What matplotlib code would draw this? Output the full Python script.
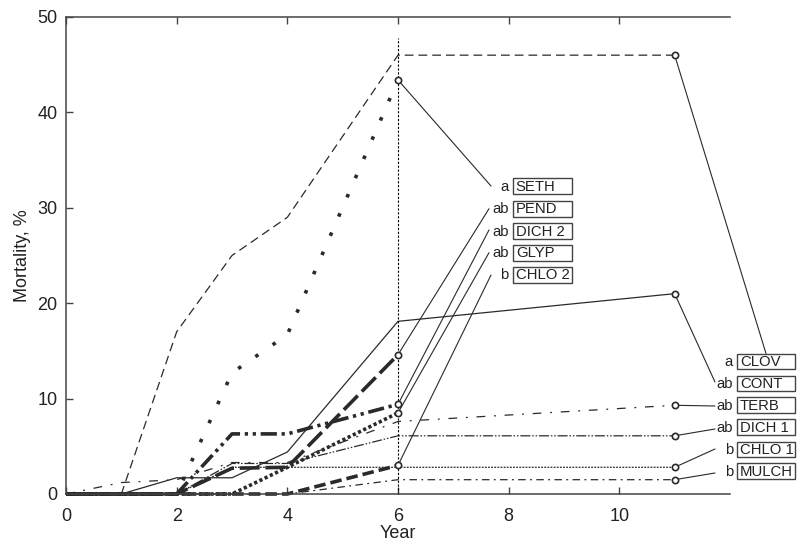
import matplotlib
matplotlib.use("Agg")
import matplotlib.pyplot as plt
from matplotlib.patches import Rectangle

plt.rcParams['font.family'] = ['Liberation Sans', 'DejaVu Sans']

# ---------------- data ----------------
years_to6 = [0, 1, 2, 3, 4, 6]
years_to11 = [0, 1, 2, 3, 4, 6, 11]

# series ending at year 6
seth = [0, 0, 0, 12.7, 16.7, 43.4]
pend = [0, 0, 0, 2.7, 2.8, 14.6]
dich2 = [0, 0, 0, 6.3, 6.3, 9.4]
glyp = [0, 0, 0, 0, 2.8, 8.5]
chlo2 = [0, 0, 0, 0, 0, 3.0]

# series ending at year 11
clov = [0, 0, 17.0, 25.0, 29.0, 46.0, 46.0]
cont = [0, 0, 1.7, 1.7, 4.4, 18.1, 21.0]
terb = [0, 1.2, 1.5, 3.3, 3.3, 7.6, 9.3]
dich1 = [0, 0, 0, 3.2, 3.2, 6.1, 6.1]
chlo1 = [0, 0, 0, 2.8, 2.8, 2.8, 2.8]
mulch = [0, 0, 0, 0, 0, 1.5, 1.5]

names_left = ['SETH', 'PEND', 'DICH 2', 'GLYP', 'CHLO 2']
letters_left = ['a', 'ab', 'ab', 'ab', 'b']
names_right = ['CLOV', 'CONT', 'TERB', 'DICH 1', 'CHLO 1', 'MULCH']
letters_right = ['a', 'ab', 'ab', 'ab', 'b', 'b']

x_ticks = [0, 2, 4, 6, 8, 10]
y_ticks = [0, 10, 20, 30, 40, 50]

# ---------------- figure ----------------
W, H = 799, 547
fig = plt.figure(figsize=(W / 100, H / 100), dpi=100)
ax_l, ax_r, ax_t, ax_b = 66, 730, 17, 494
ax = fig.add_axes([ax_l / W, 1 - ax_b / H, (ax_r - ax_l) / W, (ax_b - ax_t) / H])

def fxy(px, py):
    return px / W, 1 - py / H

c = '#2a2a2a'

styles = {
    'SETH': dict(lw=2.6, dashes=(1.0, 4.8), dash_capstyle='butt'),
    'PEND': dict(lw=2.6, dashes=(5.5, 1.6)),
    'DICH 2': dict(lw=2.6, dashes=(4.5, 1.3, 0.9, 1.3, 0.9, 1.3)),
    'GLYP': dict(lw=2.6, dashes=(0.9, 0.7)),
    'CHLO 2': dict(lw=2.6, dashes=(3.2, 1.4)),
    'CLOV': dict(lw=0.9, dashes=(7, 4)),
    'CONT': dict(lw=0.9, ls='-'),
    'TERB': dict(lw=0.9, dashes=(7, 7, 1.5, 7)),
    'DICH 1': dict(lw=0.9, dashes=(8, 1.5, 1.2, 1.5, 1.2, 1.5)),
    'CHLO 1': dict(lw=0.9, dashes=(1.5, 1.0)),
    'MULCH': dict(lw=0.9, dashes=(6, 3.5, 1.5, 3.5)),
}

left_series = [seth, pend, dich2, glyp, chlo2]
right_series = [clov, cont, terb, dich1, chlo1, mulch]

for name, vals in zip(names_right, right_series):
    ax.plot(years_to11, vals, color=c, clip_on=False, **styles[name])
    ax.plot(years_to11[-1], vals[-1], 'o', ms=4.5, mfc='white', mec=c, mew=1.2,
            clip_on=False, zorder=5)
for name, vals in zip(names_left, left_series):
    ax.plot(years_to6, vals, color=c, clip_on=False, **styles[name])
    ax.plot(years_to6[-1], vals[-1], 'o', ms=4.5, mfc='white', mec=c, mew=1.2,
            clip_on=False, zorder=5)

# vertical dotted reference line at year 6
ax.plot([6, 6], [0, 47.8], color='black', lw=0.8, dashes=(2, 1.5), clip_on=False)

ax.set_xlim(0, 12)
ax.set_ylim(0, 50)
ax.set_xticks(x_ticks)
ax.set_yticks(y_ticks)
ax.spines['right'].set_visible(False)
for s in ['left', 'bottom', 'top']:
    ax.spines[s].set_color('#444444')
    ax.spines[s].set_linewidth(1.1)
ax.tick_params(direction='in', length=5, width=1, color='#444444', top=True,
               labelsize=13, labelcolor='#222222')
ax.tick_params(axis='x', pad=10)
ax.tick_params(axis='y', pad=6)
ax.set_xlabel('Year', fontsize=13, color='#222222', labelpad=0)
ax.set_ylabel('Mortality, %', fontsize=13, color='#222222', labelpad=5)

# ---------------- labels with boxes and leader lines ----------------
def draw_box(x0, x1, yc, h, name, letter, letter_right):
    fx0, fy0 = fxy(x0, yc + h / 2)
    fx1, fy1 = fxy(x1, yc - h / 2)
    fig.add_artist(Rectangle((fx0, fy0), fx1 - fx0, fy1 - fy0, transform=fig.transFigure,
                             fill=False, lw=1.0, ec='#444444'))
    tx, ty = fxy(x0 + 2.5, yc + 0.5)
    fig.text(tx, ty, name, ha='left', va='center', fontsize=10.7, color='#222222')
    lx, ly = fxy(letter_right, yc + 0.5)
    fig.text(lx, ly, letter, ha='right', va='center', fontsize=10.7, color='#222222')

def leader(xd, yd, px, py):
    ax.annotate('', xy=(xd, yd), xycoords='data', xytext=fxy(px, py),
                textcoords='figure fraction', annotation_clip=False,
                arrowprops=dict(arrowstyle='-', lw=0.8, color=c, shrinkA=0, shrinkB=0))

left_ys = [186.3, 208.7, 231.0, 252.8, 274.7]
left_ends = [(491, 186), (489, 208.7), (489, 230), (489, 252.7), (491, 275)]
for name, letter, yc, vals, (px, py) in zip(names_left, letters_left, left_ys, left_series, left_ends):
    draw_box(513.3, 571.7, yc, 16, name, letter, 508.5)
    leader(years_to6[-1], vals[-1], px, py)

right_ys = [361.7, 383.5, 405.0, 427.0, 449.5, 471.0]
right_ends = [(766, 353.5), (715, 382), (715, 406), (715, 429), (715, 449), (715, 473)]
for name, letter, yc, vals, (px, py) in zip(names_right, letters_right, right_ys, right_series, right_ends):
    draw_box(737.3, 795, yc, 15.5, name, letter, 733)
    leader(years_to11[-1], vals[-1], px, py)

fig.savefig('out.png', dpi=100)
